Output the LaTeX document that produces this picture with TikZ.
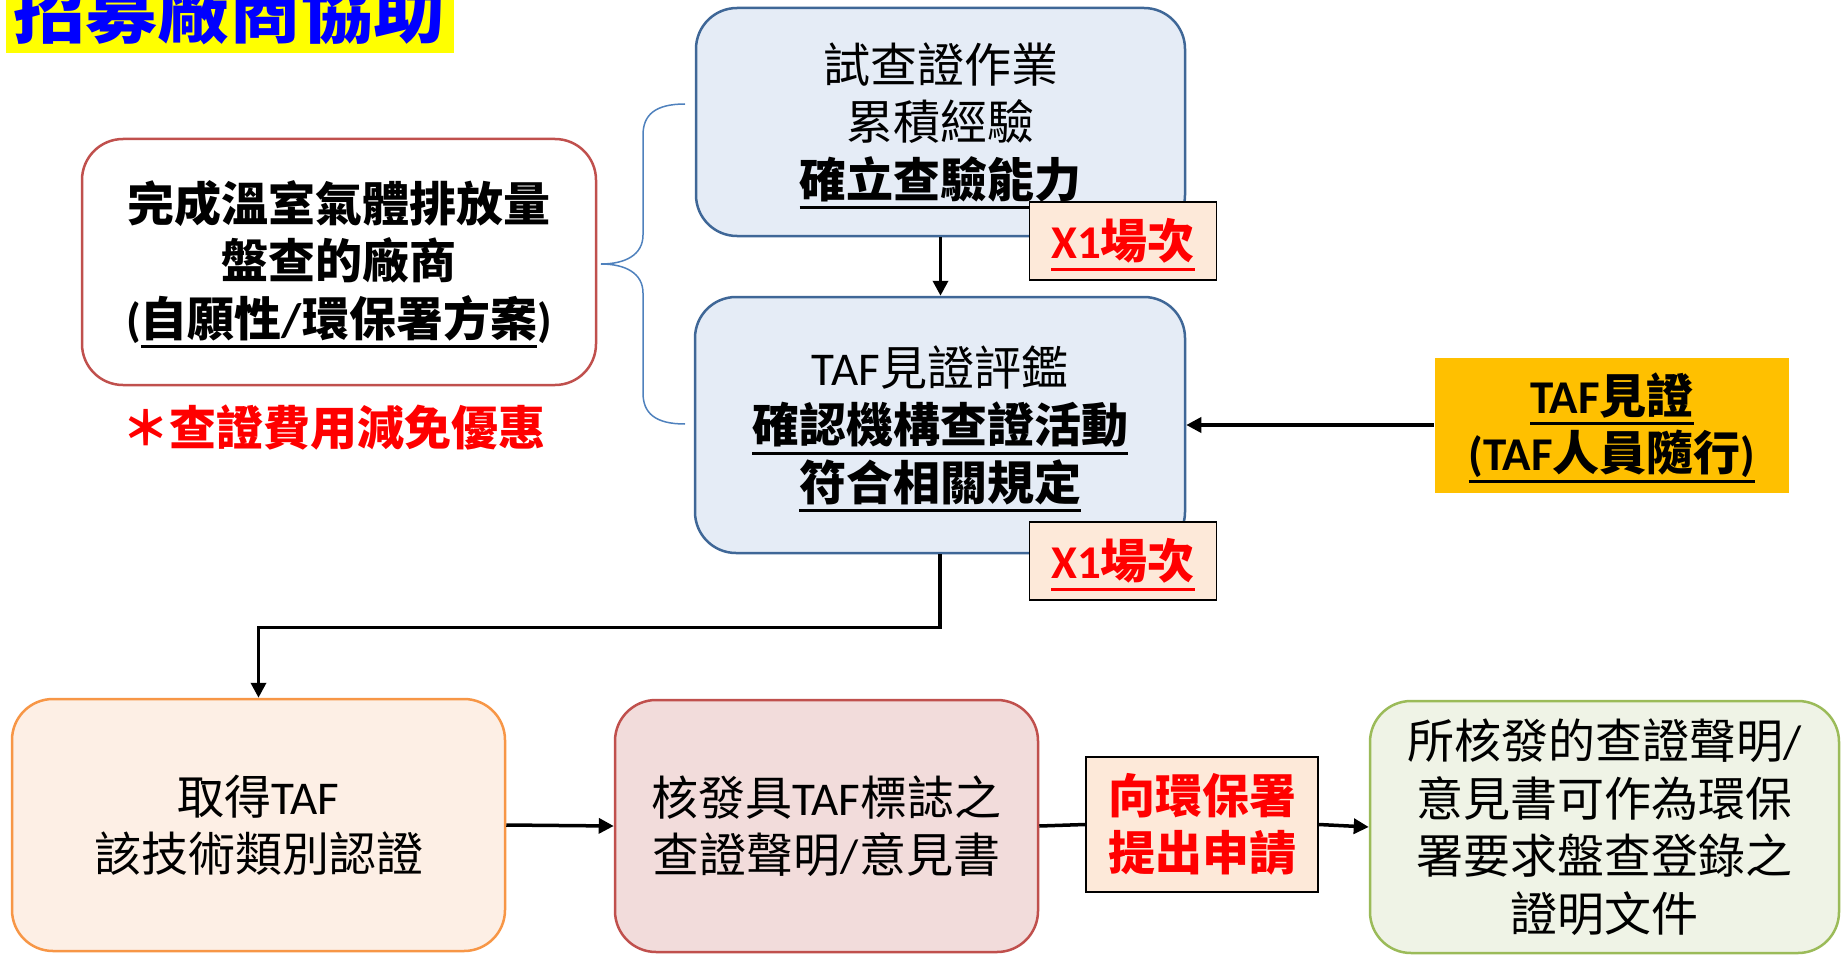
\documentclass[tikz,border=0pt]{standalone}
\usepackage{fontspec}
\setmainfont{Noto Sans CJK TC}
\newfontfamily\latf{Carlito}
\usetikzlibrary{arrows.meta}
\definecolor{bfill}{HTML}{E5ECF6}
\definecolor{bborder}{HTML}{3F6797}
\definecolor{lred}{HTML}{C0504D}
\definecolor{tagfill}{HTML}{FDE9D9}
\definecolor{tafy}{HTML}{FFC000}
\definecolor{ofill}{HTML}{FDEFE5}
\definecolor{oborder}{HTML}{F79646}
\definecolor{pfill}{HTML}{F2DCDB}
\definecolor{gfill}{HTML}{EFF3E6}
\definecolor{gborder}{HTML}{9BBB59}
\definecolor{bracec}{HTML}{4F81BD}
\definecolor{ttlblue}{HTML}{0000FF}
\definecolor{ttlyellow}{HTML}{FFFF00}
\newcommand\fs{\fontsize{47}{57.5}\selectfont}
\newcommand\la[1]{{\latf #1}}
\newcommand\ulx[1]{\setbox0=\hbox{#1}\rlap{\raisebox{-12pt}[0pt][0pt]{\rule{\wd0}{3pt}}}\box0}
\begin{document}
\begin{tikzpicture}[x=1pt,y=-1pt,
  base/.style={align=center, font=\fs, inner sep=0pt, line width=2.5pt},
  rbox/.style={base, draw, rounded corners=41pt},
  bluebox/.style={rbox, draw=bborder, fill=bfill},
  tagbox/.style={base, draw=black, line width=1.5pt, fill=tagfill, text=red, font=\fs\bfseries},
  arr/.style={line width=3.5pt, -{Triangle[length=15pt,width=15pt]}},
  plainline/.style={line width=3.5pt}]
\useasboundingbox (0,0) rectangle (1841,955);
% title
\node[fill=ttlyellow, minimum width=448pt, minimum height=53pt, inner sep=0pt] (titlebg) at (230,26.5) {};
\node[anchor=base, text=ttlblue, font=\fontsize{72}{80}\selectfont\bfseries, inner sep=0pt] (title) at (229,38) {招募廠商協助};
% left box
\node[rbox, draw=lred, fill=white, minimum width=514pt, minimum height=246pt, font=\fs\bfseries] (lb) at (339,262)
  {完成溫室氣體排放量\\盤查的廠商\\\la{(}\ulx{自願性\la{/}環保署方案}\la{)}};
\node[text=red, font=\fs\bfseries, inner sep=0pt] (note) at (334,428) {＊查證費用減免優惠};
% brace
\coordinate (brtip) at (601,264);
\draw[bracec, line width=1.5pt] (685,104) .. controls (655,104) and (643,115) .. (643,135) -- (643,235)
  .. controls (643,255) and (625,264) .. (brtip) .. controls (625,264) and (643,273) .. (643,293)
  -- (643,393) .. controls (643,413) and (655,424) .. (685,424);
% top blue box
\node[bluebox, minimum width=489pt, minimum height=228pt] (tb) at (940.5,122)
  {試查證作業\\累積經驗\\{\bfseries\ulx{確立查驗能力}}};
\node[tagbox, minimum width=187pt, minimum height=78pt] (x1a) at (1123,241) {\ulx{\la{X1}場次}};
% middle blue box
\node[bluebox, minimum width=490pt, minimum height=256pt] (mb) at (940,425)
  {\la{TAF}見證評鑑\\{\bfseries\ulx{確認機構查證活動}}\\{\bfseries\ulx{符合相關規定}}};
\node[tagbox, minimum width=187pt, minimum height=78pt] (x1b) at (1123,561) {\ulx{\la{X1}場次}};
% TAF box
\node[base, fill=tafy, minimum width=354pt, minimum height=135pt, font=\fs\bfseries] (taf) at (1612,425)
  {\ulx{\la{TAF}見證}\\\ulx{\la{(TAF}人員隨行\la{)}}};
% bottom row
\node[rbox, draw=oborder, fill=ofill, minimum width=493pt, minimum height=252pt] (b1) at (258.5,825)
  {取得\la{TAF}\\該技術類別認證};
\node[rbox, draw=lred, fill=pfill, minimum width=423pt, minimum height=252pt] (b2) at (826.5,826)
  {核發具\la{TAF}標誌之\\查證聲明\la{/}意見書};
\node[tagbox, minimum width=232pt, minimum height=135pt] (rb) at (1202,824.5) {向環保署\\提出申請};
\node[rbox, draw=gborder, fill=gfill, minimum width=469pt, minimum height=252pt] (b4) at (1604.5,827)
  {所核發的查證聲明\la{/}\\意見書可作為環保\\署要求盤查登錄之\\證明文件};
% connectors
\draw[arr] (tb.south) -- (tb.south |- mb.north);
\draw[arr] (taf.west) -- (mb.east);
\draw[arr] (mb.south) -- ++(0,73) -| (b1.north);
\draw[arr] (b1.east) -- (b2.west);
\draw[plainline] (b2.east) -- (rb.west);
\draw[arr] (rb.east) -- (b4.west);
\end{tikzpicture}
\end{document}
